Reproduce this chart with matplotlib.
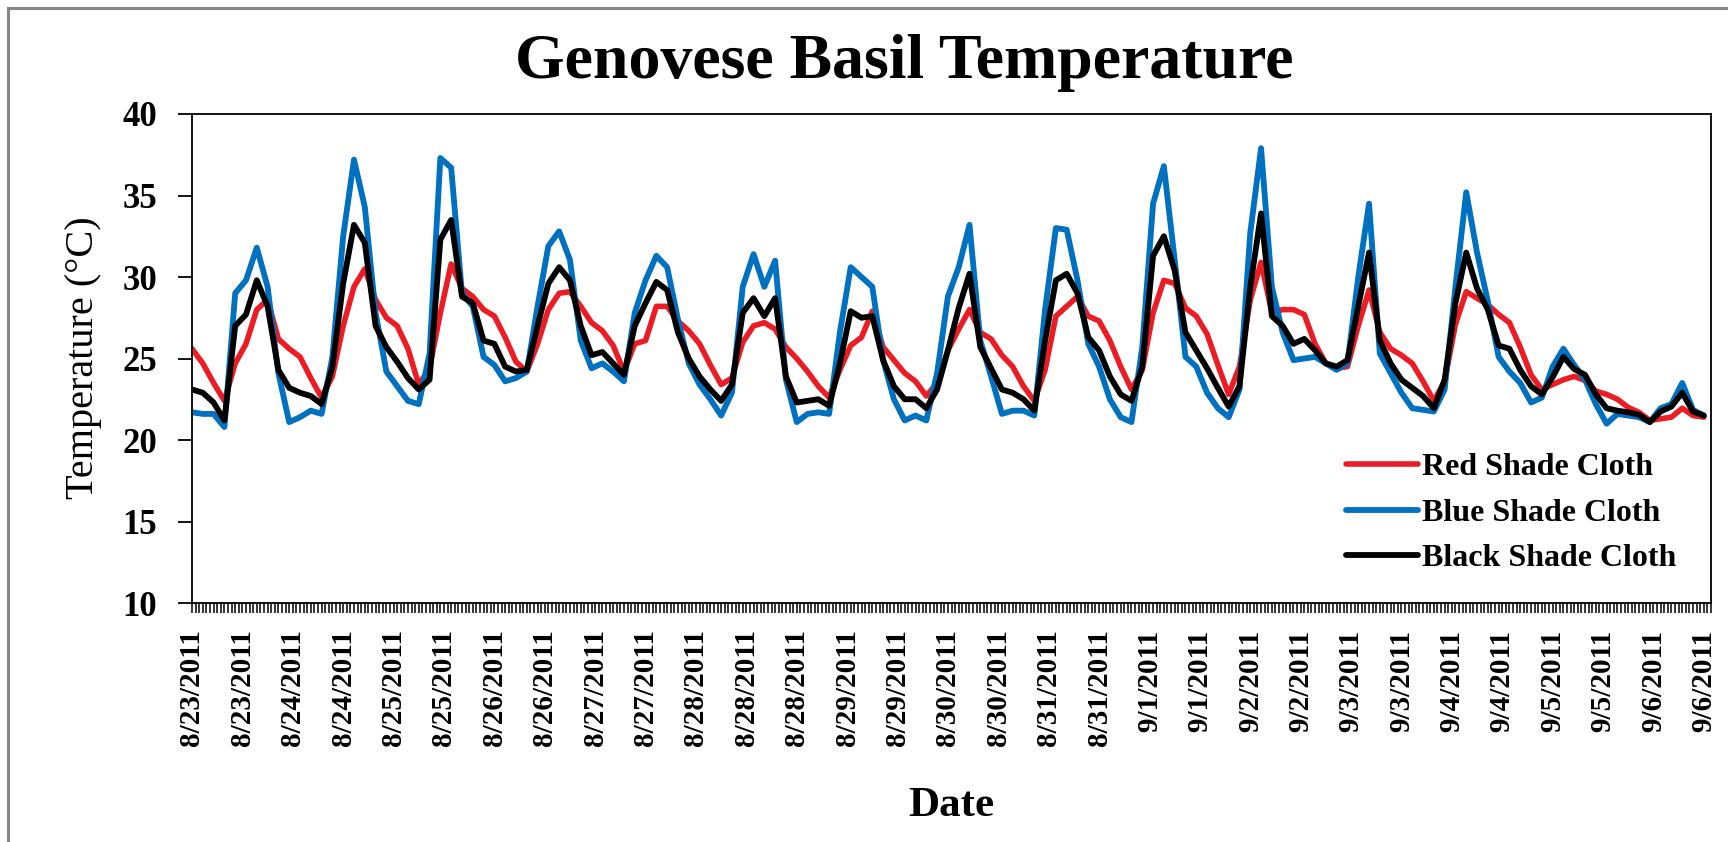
#################################################
# Genovese basil: air temperature under three
# shade cloth colours, 23 Aug - 6 Sep 2011
#################################################

import numpy as np

import matplotlib
matplotlib.use('Agg')

import matplotlib.pyplot as plt
from matplotlib.patches import Rectangle


################
### Data
################

# logger records on the category axis (one tick per record)
n_rec = 423

# every third record is kept for the curves
rec_step = 3

# date labels, one every 14 records
date_labels = ['8/23/2011', '8/23/2011', '8/24/2011', '8/24/2011',
               '8/25/2011', '8/25/2011', '8/26/2011', '8/26/2011',
               '8/27/2011', '8/27/2011', '8/28/2011', '8/28/2011',
               '8/28/2011', '8/29/2011', '8/29/2011', '8/30/2011',
               '8/30/2011', '8/31/2011', '8/31/2011', '9/1/2011',
               '9/1/2011', '9/2/2011', '9/2/2011', '9/3/2011',
               '9/3/2011', '9/4/2011', '9/4/2011', '9/5/2011',
               '9/5/2011', '9/6/2011', '9/6/2011']
label_step = 14

# temperatures (C)
red_cloth = [25.6, 24.7, 23.5, 22.4, 24.7, 25.9, 28.0, 28.6, 26.2, 25.6,
             25.1, 23.8, 22.6, 23.9, 27.0, 29.4, 30.5, 28.6, 27.5, 27.0,
             25.6, 23.4, 24.4, 27.8, 30.8, 29.3, 28.8, 28.0, 27.6, 26.3,
             24.8, 24.2, 25.9, 28.0, 29.0, 29.1, 28.2, 27.2, 26.7, 25.8,
             24.2, 25.9, 26.1, 28.2, 28.2, 27.3, 26.7, 25.9, 24.6, 23.4,
             23.8, 26.0, 27.0, 27.2, 26.8, 25.7, 25.0, 24.2, 23.3, 22.6,
             24.3, 25.8, 26.3, 27.9, 25.7, 24.9, 24.1, 23.6, 22.7, 23.5,
             25.5, 26.8, 28.0, 26.6, 26.2, 25.2, 24.5, 23.3, 22.4, 24.3,
             27.6, 28.2, 28.8, 27.6, 27.3, 26.1, 24.5, 23.1, 24.3, 27.8,
             29.8, 29.6, 28.1, 27.6, 26.5, 24.6, 22.8, 24.5, 28.6, 30.9,
             27.8, 28.0, 28.0, 27.7, 25.9, 24.7, 24.4, 24.5, 27.0, 29.2,
             26.6, 25.6, 25.2, 24.7, 23.6, 22.4, 23.6, 27.1, 29.1, 28.7,
             28.3, 27.7, 27.2, 25.7, 24.0, 23.1, 23.4, 23.7, 23.9, 23.65,
             23.0, 22.8, 22.5, 22.0, 21.7, 21.2, 21.3, 21.4, 21.95, 21.5,
             21.4]

blue_cloth = [21.7, 21.6, 21.6, 20.8, 29.0, 29.8, 31.8, 29.4, 24.1, 21.1,
              21.4, 21.8, 21.6, 25.1, 32.5, 37.2, 34.3, 27.8, 24.2, 23.3,
              22.4, 22.2, 25.3, 37.3, 36.7, 29.0, 28.2, 25.1, 24.6, 23.6,
              23.8, 24.2, 28.2, 31.9, 32.8, 31.05, 26.1, 24.4, 24.7, 24.2,
              23.6, 27.8, 29.8, 31.3, 30.6, 27.4, 24.7, 23.4, 22.5, 21.5,
              22.9, 29.4, 31.4, 29.4, 31.0, 23.7, 21.1, 21.6, 21.7, 21.6,
              26.6, 30.6, 30.0, 29.4, 24.9, 22.5, 21.2, 21.5, 21.2, 24.1,
              28.8, 30.6, 33.2, 26.1, 23.9, 21.6, 21.8, 21.8, 21.5, 28.0,
              33.0, 32.9, 29.8, 25.9, 24.5, 22.5, 21.4, 21.1, 25.7, 34.5,
              36.8, 31.05, 25.1, 24.5, 22.9, 21.95, 21.4, 23.1, 32.7, 37.9,
              29.4, 26.6, 24.9, 25.0, 25.1, 24.7, 24.3, 24.7, 30.0, 34.5,
              25.3, 24.1, 22.9, 21.95, 21.85, 21.75, 23.1, 29.4, 35.2, 31.5,
              28.5, 25.1, 24.2, 23.5, 22.3, 22.6, 24.5, 25.6, 24.6, 23.7,
              22.2, 21.0, 21.6, 21.5, 21.4, 21.1, 21.95, 22.2, 23.5, 21.85,
              21.5]

black_cloth = [23.1, 22.9, 22.3, 21.2, 27.0, 27.7, 29.8, 28.2, 24.3, 23.2,
               22.9, 22.7, 22.2, 24.5, 29.6, 33.2, 32.1, 27.0, 25.7, 24.8,
               23.8, 23.1, 23.7, 32.3, 33.5, 28.8, 28.4, 26.1, 25.9, 24.5,
               24.2, 24.3, 27.0, 29.6, 30.6, 29.8, 27.0, 25.2, 25.4, 24.7,
               24.0, 27.0, 28.4, 29.7, 29.2, 26.6, 25.0, 23.9, 23.1, 22.4,
               23.4, 27.8, 28.7, 27.6, 28.7, 23.9, 22.3, 22.4, 22.5, 22.1,
               24.7, 27.9, 27.5, 27.6, 24.9, 23.3, 22.5, 22.5, 21.95, 23.1,
               25.5, 28.1, 30.2, 25.7, 24.4, 23.1, 22.9, 22.5, 21.8, 26.1,
               29.8, 30.2, 29.0, 26.3, 25.5, 23.9, 22.8, 22.4, 24.5, 31.3,
               32.5, 30.4, 26.6, 25.5, 24.4, 23.2, 22.05, 23.3, 29.4, 33.9,
               27.6, 27.0, 25.9, 26.2, 25.5, 24.7, 24.5, 24.9, 28.2, 31.5,
               26.1, 24.7, 23.7, 23.2, 22.7, 21.95, 23.7, 28.4, 31.5, 29.3,
               28.0, 25.8, 25.6, 24.3, 23.3, 22.8, 23.85, 25.1, 24.35, 24.0,
               22.8, 21.95, 21.8, 21.7, 21.55, 21.1, 21.75, 22.05, 22.9, 21.75,
               21.5]


################
### Plot
################

plt.rcParams['font.family'] = 'Liberation Serif'

W, H = 1728, 842
fig = plt.figure(figsize=(W / 100, H / 100), dpi=100)

# plot area in pixels: left 192, right 1711, top 114, bottom 603
ax = fig.add_axes([192 / W, 1 - 603 / H, (1711 - 192) / W, (603 - 114) / H])

rec = np.arange(0, n_rec, rec_step)

ax.plot(rec, red_cloth, color='#ED1C24', lw=4.0, label='Red Shade Cloth',
        solid_joinstyle='round', solid_capstyle='round')
ax.plot(rec, blue_cloth, color='#0070C0', lw=4.2, label='Blue Shade Cloth',
        solid_joinstyle='round', solid_capstyle='round')
ax.plot(rec, black_cloth, color='black', lw=4.2, label='Black Shade Cloth',
        solid_joinstyle='round', solid_capstyle='round')

ax.set_xlim(0, n_rec - 1)
ax.set_ylim(10, 40)

# y axis
ax.set_yticks(np.arange(10, 41, 5))
ax.tick_params(axis='y', direction='out', length=10, width=1.3, pad=15,
               labelsize=25)
for t in ax.get_yticklabels():
    t.set_fontweight('bold')

# x axis: a tick for every record, a date every 14 records
xt = np.arange(n_rec)
xl = [date_labels[i // label_step] if i % label_step == 0 else '' for i in xt]
ax.set_xticks(xt)
ax.set_xticklabels(xl, rotation=90, fontsize=21, fontweight='bold')
ax.tick_params(axis='x', direction='out', length=7, width=1.1, pad=12)

for s in ax.spines.values():
    s.set_linewidth(1.3)
    s.set_color('black')

# titles
fig.text(904 / W, 1 - 63 / H, 'Genovese Basil Temperature', ha='center',
         va='center', fontsize=46, fontweight='bold')
fig.text(83 / W, 1 - 358 / H, 'Temperature (\u00b0C)', ha='center',
         va='center', rotation=90, fontsize=29)
fig.text(951 / W, 1 - 806 / H, 'Date', ha='center', va='center',
         fontsize=31, fontweight='bold')

leg = ax.legend(loc='upper left', bbox_to_anchor=(1346 / W, 1 - 453 / H),
                bbox_transform=fig.transFigure, frameon=False, fontsize=23,
                handlelength=2.25, handletextpad=0.12, labelspacing=0.5,
                borderpad=0, borderaxespad=0)
for t in leg.get_texts():
    t.set_fontweight('bold')

# chart area border
fig.add_artist(Rectangle((8 / W, -0.1), 1.2, (H - 8) / H + 0.1,
                         transform=fig.transFigure, fill=False,
                         ec='#858585', lw=2.2))

plt.savefig('out.png', dpi=100)
